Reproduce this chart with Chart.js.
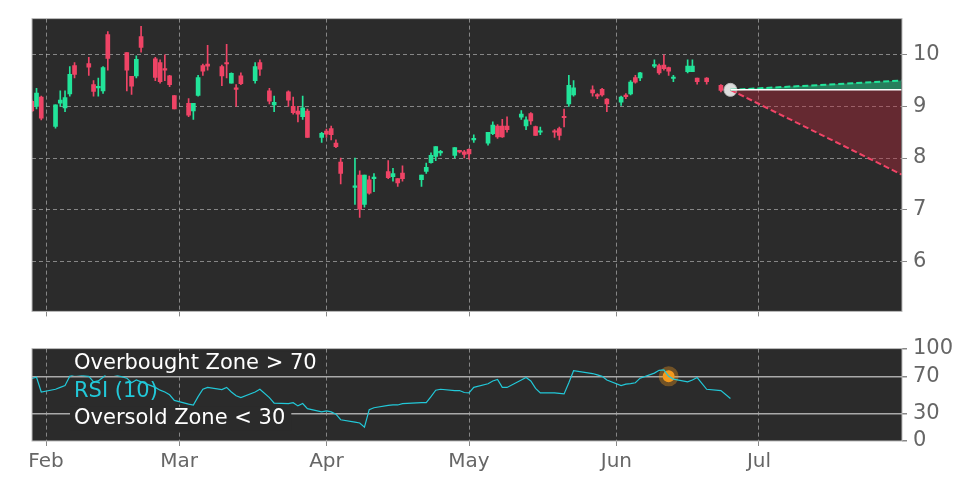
<!DOCTYPE html>
<html>
<head>
<meta charset="utf-8">
<script src="https://cdn.jsdelivr.net/npm/chart.js@4"></script>
<style>
  body { margin: 0; background: #fff; }
  .wrap { position: relative; width: 972px; height: 486px; }
  canvas { position: absolute; left: 0; }
  #price { top: 0; }
  #rsi { top: 330px; }
</style>
</head>
<body>
<div class="wrap">
  <canvas id="price" width="972" height="330"></canvas>
  <canvas id="rsi" width="972" height="156"></canvas>
</div>
<script>
// trading dates (2025)
const dates = [
  '01-29','01-30','01-31','02-03','02-04','02-05','02-06','02-07','02-10','02-11',
  '02-12','02-13','02-14','02-18','02-19','02-20','02-21','02-24','02-25','02-26',
  '02-27','02-28','03-03','03-04','03-05','03-06','03-07','03-10','03-11','03-12',
  '03-13','03-14','03-17','03-18','03-20','03-21','03-24','03-25','03-26','03-27',
  '03-28','03-31','04-01','04-02','04-03','04-04','04-07','04-08','04-09','04-10',
  '04-11','04-14','04-15','04-16','04-17','04-21','04-22','04-23','04-24','04-25',
  '04-28','04-29','04-30','05-01','05-02','05-05','05-06','05-07','05-08','05-09',
  '05-12','05-13','05-14','05-15','05-16','05-19','05-20','05-21','05-22','05-23',
  '05-27','05-28','05-29','05-30','06-02','06-03','06-04','06-05','06-06','06-09',
  '06-10','06-11','06-12','06-13','06-16','06-17','06-18','06-20','06-23','06-25'
];
const opens = [
  9.1,9.0,9.18,8.61,9.06,8.97,9.24,9.79,9.83,9.42,
  9.36,9.3,10.39,10.04,9.58,9.59,10.35,9.92,9.85,9.73,
  9.59,9.21,9.06,8.91,9.21,9.79,9.82,9.77,9.84,9.45,
  9.35,9.59,9.5,9.85,9.3,9.03,9.28,9.0,8.91,8.8,
  8.91,8.4,8.52,8.57,8.29,7.92,7.43,7.67,7.1,7.58,
  7.6,7.74,7.64,7.6,7.71,7.58,7.74,7.91,8.03,8.1,
  8.05,8.14,8.12,8.17,8.35,8.29,8.47,8.62,8.62,8.62,
  8.79,8.62,8.86,8.61,8.5,8.52,8.57,8.8,9.05,9.22,
  9.32,9.23,9.33,9.14,9.08,9.21,9.24,9.56,9.55,9.78,
  9.79,9.8,9.75,9.54,9.67,9.67,9.55,9.55,9.41,9.36
];
const closes = [
  8.91,9.26,8.77,9.03,9.12,9.17,9.62,9.62,9.76,9.29,
  9.39,9.75,9.93,9.7,9.39,9.91,10.14,9.56,9.48,9.7,
  9.42,8.95,8.83,9.06,9.56,9.68,9.78,9.59,9.82,9.64,
  9.33,9.44,9.77,9.72,9.1,9.08,9.12,8.88,8.85,8.97,
  8.4,8.48,8.46,8.45,8.22,7.7,7.46,7.01,7.67,7.32,
  7.62,7.62,7.7,7.52,7.6,7.67,7.82,8.05,8.22,8.1,
  8.2,8.12,8.07,8.08,8.37,8.5,8.64,8.41,8.41,8.55,
  8.85,8.74,8.72,8.44,8.52,8.5,8.44,8.78,9.41,9.36,
  9.26,9.2,9.22,9.05,9.18,9.19,9.47,9.47,9.65,9.8,
  9.65,9.73,9.68,9.55,9.78,9.78,9.48,9.48,9.31,9.32
];
const highs = [
  9.12,9.35,9.2,9.03,9.3,9.3,9.77,9.85,9.95,9.5,
  9.55,9.77,10.45,10.04,9.58,9.98,10.55,9.95,9.9,10.0,
  9.6,9.21,9.15,9.06,9.6,9.82,10.18,9.8,10.2,9.65,
  9.42,9.65,9.85,9.9,9.35,9.2,9.3,9.18,9.0,9.2,
  8.95,8.5,8.56,8.62,8.35,8.0,8.0,7.75,7.67,7.65,
  7.7,7.95,7.8,7.6,7.85,7.67,7.9,8.1,8.22,8.15,
  8.2,8.15,8.15,8.18,8.45,8.5,8.7,8.65,8.75,8.8,
  8.92,8.8,8.88,8.62,8.6,8.55,8.6,8.95,9.6,9.5,
  9.4,9.25,9.35,9.15,9.2,9.25,9.5,9.6,9.66,9.9,
  9.82,10.0,9.76,9.6,9.9,9.9,9.55,9.56,9.42,9.37
];
const lows = [
  8.9,8.95,8.74,8.58,9.0,8.9,9.2,9.55,9.6,9.2,
  9.2,9.25,9.7,9.3,9.23,9.55,10.05,9.5,9.45,9.5,
  9.38,8.95,8.8,8.75,9.2,9.6,9.7,9.4,9.55,9.45,
  9.0,9.42,9.45,9.6,9.05,8.9,9.0,8.85,8.7,8.75,
  8.4,8.3,8.4,8.35,8.2,7.5,7.1,6.85,7.05,7.3,
  7.35,7.6,7.55,7.45,7.55,7.45,7.7,7.9,7.95,8.05,
  8.0,8.1,8.0,7.98,8.3,8.25,8.45,8.38,8.4,8.5,
  8.75,8.55,8.65,8.44,8.45,8.4,8.35,8.6,9.0,9.2,
  9.2,9.15,9.2,8.9,9.02,9.15,9.22,9.45,9.5,9.75,
  9.62,9.7,9.6,9.48,9.65,9.67,9.43,9.43,9.28,9.3
];
const rsiValues = [
  67.7,69,53,56,58,60,70,72,70,64,
  65,69,74,68,63,66,64,58,55,53,
  50,44,40,39,48,56,58,55.6,58,53,
  49,47,53,56,47,41,40.5,41.5,38,40.5,
  35,31.5,32.6,31.5,29,23,20.5,19.5,15,34,
  36,38.5,39,39,40.5,41.5,41.5,48,55,56,
  54.6,54.6,52.5,52,58,62,65,66.7,58,58,
  66,68.7,65,57,52,52,51.5,51,63,76,
  73,71.5,70,66,60,61.5,62,63,68,73.5,
  76.5,77,70,67,64,66,68.7,56,54.6,46
];
// projection from the last close
const forecastDates = ['06-25', '07-31'];
const forecastBase = [9.32, 9.32];
const forecastHigh = [9.32, 9.5];
const forecastLow = [9.32, 7.68];
const priceTicks = [6, 7, 8, 9, 10];
const rsiTicks = [0, 30, 70, 100];
const monthTicks = [
  { date: '02-01', label: 'Feb' }, { date: '03-01', label: 'Mar' },
  { date: '04-01', label: 'Apr' }, { date: '05-01', label: 'May' },
  { date: '06-01', label: 'Jun' }, { date: '07-01', label: 'Jul' },
];

const dayOf = (md) => (Date.UTC(2025, +md.slice(0, 2) - 1, +md.slice(3)) - Date.UTC(2025, 1, 1)) / 86400000;
const days = dates.map(dayOf);
const monthDays = monthTicks.map((m) => dayOf(m.date));

const GREEN = '#22e49a';
const RED = '#ef4466';
const PLOT_BG = '#2b2b2b';
const TICK_COLOR = '#666';
const FONT = 'DejaVu Sans';
const GRID = 'rgba(210,210,210,0.55)';

const bgPlugin = {
  id: 'bg',
  beforeDraw(chart) {
    const { ctx, chartArea: a } = chart;
    ctx.save();
    ctx.fillStyle = PLOT_BG;
    ctx.fillRect(a.left, a.top, a.right - a.left, a.bottom - a.top);
    ctx.restore();
  },
};
const framePlugin = {
  id: 'frame',
  afterDraw(chart) {
    const { ctx, chartArea: a } = chart;
    ctx.save(); ctx.strokeStyle = '#bbb'; ctx.lineWidth = 1;
    ctx.strokeRect(a.left, a.top, a.right - a.left, a.bottom - a.top);
    ctx.restore();
  },
};

const xScale = (showLabels) => ({
  type: 'linear',
  min: -2.95,
  max: 180.1,
  offset: false,
  afterBuildTicks: (s) => { s.ticks = monthDays.map((v) => ({ value: v })); },
  afterFit: (s) => { s.height = showLabels ? 45 : 6; },
  ticks: {
    display: showLabels,
    color: TICK_COLOR,
    font: { family: FONT, size: 20 },
    maxRotation: 0,
    padding: 4,
    callback: (v) => { const i = monthDays.indexOf(v); return i >= 0 ? monthTicks[i].label : ''; },
  },
  grid: { offset: false, color: GRID, tickColor: '#888', tickLength: 5, drawTicks: true },
  border: { dash: [4, 3], display: false },
});

const candleColors = opens.map((o, i) => (closes[i] >= o ? GREEN : RED));

new Chart(document.getElementById('price'), {
  type: 'bar',
  data: {
    datasets: [
      {
        type: 'line', data: forecastDates.map((d, i) => ({ x: dayOf(d), y: forecastBase[i] })),
        borderColor: '#ffffff', borderWidth: 1.5, pointRadius: 0, fill: false,
      },
      {
        type: 'line', data: forecastDates.map((d, i) => ({ x: dayOf(d), y: forecastHigh[i] })),
        borderColor: GREEN, borderWidth: 2, borderDash: [6, 3], pointRadius: 0,
        fill: { target: 0 }, backgroundColor: 'rgba(34,228,154,0.45)',
      },
      {
        type: 'line', data: forecastDates.map((d, i) => ({ x: dayOf(d), y: forecastLow[i] })),
        borderColor: RED, borderWidth: 2, borderDash: [6, 3], pointRadius: 0,
        fill: { target: 0 }, backgroundColor: 'rgba(190,40,60,0.4)',
      },
      {
        type: 'scatter', data: [{ x: dayOf(forecastDates[0]), y: forecastBase[0] }],
        pointRadius: 6.5, pointBackgroundColor: '#dddddd', pointBorderColor: '#bbbbbb',
      },
      {
        data: days.map((d, i) => ({ x: d, y: [lows[i], highs[i]] })),
        backgroundColor: candleColors, barThickness: 1, grouped: false,
      },
      {
        data: days.map((d, i) => ({ x: d, y: [opens[i], closes[i]] })),
        backgroundColor: candleColors, barThickness: 4, grouped: false, minBarLength: 1.5,
      },
    ],
  },
  options: {
    responsive: false, animation: false,
    layout: { padding: { left: 32, top: 16, right: 0, bottom: 0 } },
    plugins: { legend: { display: false }, tooltip: { enabled: false } },
    scales: {
      x: xScale(false),
      y: {
        position: 'right', min: 5.03, max: 10.7,
        afterBuildTicks: (s) => { s.ticks = priceTicks.map((v) => ({ value: v })); },
        afterFit: (s) => { s.width = 70; },
        ticks: { color: TICK_COLOR, font: { family: FONT, size: 21 }, padding: 6 },
        grid: { color: GRID, tickColor: '#888', tickLength: 5 },
        border: { dash: [4, 3], display: false },
      },
    },
  },
  plugins: [bgPlugin, framePlugin],
});

const rsiLabels = [
  { text: 'Overbought Zone > 70', color: '#ffffff', value: 84 },
  { text: 'RSI (10)', color: '#22c8d8', value: 54 },
  { text: 'Oversold Zone < 30', color: '#ffffff', value: 24 },
];

new Chart(document.getElementById('rsi'), {
  type: 'line',
  data: {
    datasets: [
      {
        data: days.map((d, i) => ({ x: d, y: rsiValues[i] })),
        borderColor: '#22c8d8', borderWidth: 1.2, pointRadius: 0, tension: 0,
      },
      {
        type: 'scatter', data: [{ x: dayOf('06-12'), y: 70 }],
        pointRadius: 6, pointBackgroundColor: '#f39a1e', pointBorderColor: 'rgba(243,154,30,0.35)',
        pointBorderWidth: 8,
      },
    ],
  },
  options: {
    responsive: false, animation: false,
    layout: { padding: { left: 32, top: 10, right: 0, bottom: 0 } },
    plugins: { legend: { display: false }, tooltip: { enabled: false } },
    scales: {
      x: xScale(true),
      y: {
        position: 'right', min: 0, max: 100,
        afterBuildTicks: (s) => { s.ticks = rsiTicks.map((v) => ({ value: v })); },
        afterFit: (s) => { s.width = 70; },
        ticks: { color: TICK_COLOR, font: { family: FONT, size: 21 }, padding: 6 },
        grid: {
          color: (c) => (c.tick && (c.tick.value === 30 || c.tick.value === 70) ? '#aaaaaa' : 'rgba(0,0,0,0)'),
          lineWidth: 1.5, tickColor: '#888', tickLength: 5,
        },
        border: { display: false },
      },
    },
  },
  plugins: [bgPlugin, {
    id: 'rsiText',
    afterDatasetsDraw(chart) {
      const { ctx, chartArea: a, scales } = chart;
      ctx.save();
      ctx.font = '21px ' + FONT;
      ctx.textBaseline = 'middle';
      rsiLabels.forEach((l) => {
        const y = scales.y.getPixelForValue(l.value);
        const w = ctx.measureText(l.text).width;
        if (l.color === '#ffffff') {
          ctx.fillStyle = PLOT_BG;
          ctx.fillRect(a.left + 38, y - 12, w + 10, 24);
        }
        ctx.fillStyle = l.color;
        ctx.fillText(l.text, a.left + 42, y);
      });
      ctx.restore();
    },
  }, framePlugin],
});
</script>
</body>
</html>
